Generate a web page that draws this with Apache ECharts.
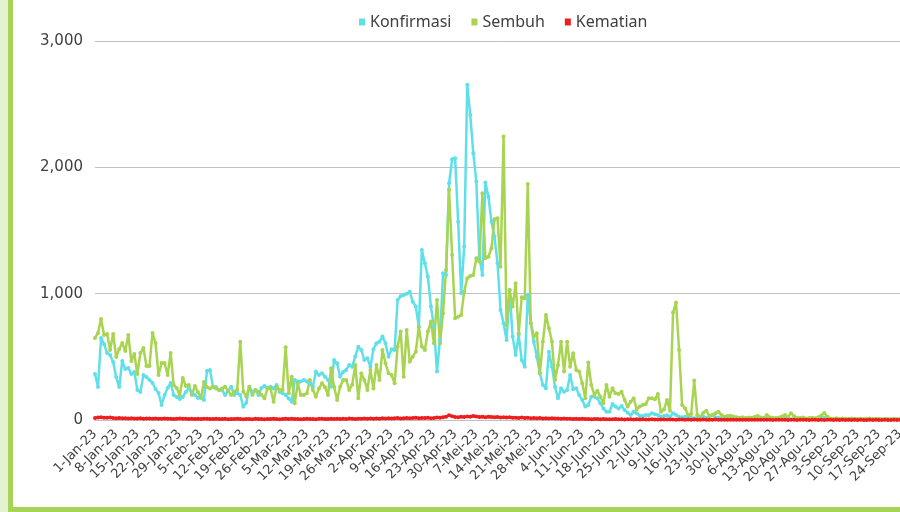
<!DOCTYPE html>
<html>
<head>
<meta charset="utf-8">
<script src="https://cdn.jsdelivr.net/npm/echarts@6/dist/echarts.min.js"></script>
<style>
  html, body { margin: 0; padding: 0; background: #fff; }
  #chart { width: 900px; height: 512px; }
</style>
</head>
<body>
<div id="chart"></div>
<script>
// bulan (Indonesia) dan jumlah hari, 1-Jan-23 s/d 24-Sep-23
var bulan = ['Jan', 'Feb', 'Mar', 'Apr', 'Mei', 'Jun', 'Jul', 'Agu', 'Sep'];
var hariPerBulan = [31, 28, 31, 30, 31, 30, 31, 31, 24];

var konfirmasi = [
  364, 261, 650, 600, 530, 515, 460, 340, 261, 467,
  404, 412, 364, 380, 238, 222, 356, 340, 317, 293,
  245, 214, 119, 198, 253, 293, 198, 182, 166, 182,
  222, 253, 214, 198, 174, 182, 158, 388, 396, 264,
  261, 238, 238, 198, 230, 264, 198, 214, 198, 105,
  137, 264, 222, 238, 198, 253, 269, 253, 264, 250,
  277, 222, 211, 198, 170, 145, 317, 304, 304, 317,
  304, 290, 264, 383, 356, 370, 343, 317, 264, 475,
  449, 343, 380, 396, 436, 422, 502, 580, 554, 475,
  488, 422, 560, 607, 620, 660, 607, 500, 560, 554,
  950, 980, 990, 1000, 1016, 937, 898, 739, 1346, 1241,
  1135, 898, 739, 383, 634, 1161, 1148, 1874, 2064, 2072,
  1570, 1003, 1373, 2653, 2415, 2112, 1887, 1293, 1148, 1880,
  1769, 1570, 1452, 1241, 871, 766, 634, 1029, 660, 515,
  673, 475, 422, 990, 766, 620, 501, 370, 277, 251,
  541, 422, 264, 172, 251, 224, 238, 356, 243, 251,
  198, 158, 106, 119, 185, 185, 172, 132, 92, 66,
  66, 127, 106, 92, 111, 79, 58, 40, 66, 53,
  32, 32, 40, 37, 53, 45, 40, 26, 32, 37,
  26, 53, 40, 26, 21, 26, 21, 18, 13, 15,
  20, 26, 18, 15, 40, 22, 18, 12, 16, 14,
  12, 10, 14, 9, 11, 8, 12, 10, 9, 8,
  10, 7, 9, 8, 11, 7, 6, 8, 9, 7,
  6, 8, 7, 5, 9, 6, 7, 5, 6, 8,
  14, 18, 12, 7, 6, 5, 7, 6, 5, 4,
  5, 6, 4, 5, 3, 4, 6, 5, 4, 3,
  4, 5, 3, 4, 3, 5, 4
];

var sembuh = [
  650, 689, 800, 673, 681, 554, 681, 499, 562, 610,
  546, 673, 467, 523, 364, 530, 570, 428, 428, 689,
  610, 356, 451, 451, 356, 530, 277, 253, 198, 333,
  269, 277, 198, 269, 222, 174, 301, 261, 250, 264,
  250, 238, 250, 264, 230, 198, 224, 240, 620, 224,
  185, 264, 198, 238, 224, 200, 172, 250, 250, 145,
  264, 238, 238, 575, 211, 343, 132, 290, 198, 198,
  211, 317, 238, 185, 250, 290, 260, 198, 409, 264,
  158, 264, 317, 317, 238, 280, 436, 172, 370, 317,
  238, 396, 250, 436, 317, 554, 449, 370, 356, 290,
  581, 700, 343, 713, 462, 501, 541, 739, 581, 554,
  700, 779, 607, 950, 607, 845, 1188, 1822, 1307, 805,
  818, 832, 1016, 1122, 1140, 1148, 1280, 1254, 1795, 1280,
  1293, 1360, 1590, 1597, 1214, 2244, 752, 1029, 898, 1082,
  686, 971, 963, 1869, 766, 660, 686, 370, 620, 832,
  726, 620, 317, 436, 620, 383, 620, 422, 528, 396,
  383, 290, 172, 455, 277, 198, 232, 185, 132, 277,
  185, 251, 211, 206, 224, 158, 106, 145, 172, 84,
  106, 119, 127, 172, 172, 164, 206, 66, 84, 158,
  74, 851, 930, 554, 119, 92, 40, 48, 312, 40,
  26, 58, 74, 32, 40, 53, 66, 40, 26, 32,
  34, 28, 21, 18, 22, 15, 20, 18, 25, 32,
  20, 15, 40, 22, 18, 15, 20, 28, 40, 25,
  53, 30, 18, 15, 20, 12, 15, 18, 14, 22,
  35, 55, 25, 12, 10, 14, 9, 12, 10, 8,
  11, 9, 8, 10, 7, 9, 12, 8, 7, 9,
  6, 8, 7, 6, 9, 7, 5
];

var kematian = [
  15, 20, 22, 18, 17, 20, 16, 14, 15, 13,
  14, 12, 13, 11, 12, 14, 10, 11, 12, 10,
  11, 9, 10, 12, 9, 10, 8, 9, 11, 10,
  9, 8, 10, 7, 9, 8, 10, 9, 7, 8,
  9, 7, 8, 10, 6, 8, 7, 9, 8, 6,
  7, 8, 6, 9, 7, 8, 6, 7, 8, 9,
  7, 6, 8, 9, 7, 10, 8, 7, 6, 8,
  9, 7, 8, 6, 9, 10, 8, 7, 9, 8,
  10, 8, 9, 7, 11, 9, 8, 10, 9, 11,
  10, 12, 9, 11, 10, 13, 12, 14, 11, 13,
  15, 12, 14, 16, 13, 15, 18, 14, 16, 15,
  17, 14, 16, 19, 18, 22, 25, 38, 30, 24,
  22, 26, 24, 28, 25, 32, 27, 24, 26, 22,
  25, 23, 21, 24, 20, 22, 19, 21, 17, 18,
  16, 19, 15, 17, 14, 16, 13, 15, 12, 14,
  12, 13, 11, 12, 10, 11, 9, 10, 8, 9,
  8, 9, 7, 8, 6, 7, 8, 6, 7, 5,
  6, 5, 7, 6, 5, 4, 6, 5, 4, 5,
  4, 5, 3, 4, 5, 3, 4, 3, 4, 3,
  3, 4, 2, 3, 4, 2, 3, 2, 3, 2,
  2, 3, 2, 1, 2, 3, 2, 1, 2, 1,
  2, 1, 2, 1, 1, 2, 1, 2, 1, 1,
  1, 2, 1, 1, 0, 1, 2, 1, 1, 0,
  1, 1, 0, 1, 2, 1, 0, 1, 1, 0,
  1, 0, 1, 1, 0, 1, 0, 1, 0, 1,
  0, 1, 0, 1, 0, 0, 1, 0, 1, 0,
  0, 1, 0, 0, 1, 0, 1
];

var tanggal = [];
bulan.forEach(function (b, m) {
  for (var d = 1; d <= hariPerBulan[m]; d++) {
    tanggal.push(d + '-' + b + '-23');
  }
});

var myChart = echarts.init(document.getElementById('chart'));

function garis(nama, warna, data) {
  return {
    name: nama,
    type: 'line',
    data: data,
    symbol: 'circle',
    symbolSize: 4,
    showAllSymbol: true,
    itemStyle: { color: warna },
    lineStyle: { color: warna, width: 2.5 },
    emphasis: { disabled: true }
  };
}

var option = {
  animation: false,
  textStyle: { fontFamily: 'DejaVu Sans' },
  graphic: [
    { type: 'rect', shape: { x: 0, y: 0, width: 8, height: 512 }, style: { fill: '#E5F2D2' } },
    { type: 'rect', shape: { x: 8, y: 0, width: 5, height: 512 }, style: { fill: '#A8D455' } },
    { type: 'rect', shape: { x: 8, y: 507, width: 892, height: 5 }, style: { fill: '#A8D455' } }
  ],
  legend: {
    top: 9,
    left: 354,
    icon: 'rect',
    itemWidth: 6,
    itemHeight: 7,
    itemGap: 20,
    textStyle: { fontSize: 16, color: '#404040', fontFamily: 'Noto Sans' },
    data: ['Konfirmasi', 'Sembuh', 'Kematian']
  },
  grid: {
    left: 95,
    right: 0,
    top: 41,
    bottom: 92,
    outerBoundsMode: 'none'
  },
  xAxis: {
    type: 'category',
    boundaryGap: false,
    data: tanggal,
    axisTick: { show: false },
    axisLine: { lineStyle: { color: '#bfbfbf' } },
    axisLabel: {
      interval: 6,
      rotate: 45,
      fontSize: 13,
      color: '#404040',
      margin: 12
    }
  },
  yAxis: {
    type: 'value',
    min: 0,
    max: 3000,
    interval: 1000,
    axisLine: { show: false },
    axisTick: { show: false },
    splitLine: { lineStyle: { color: '#c0c0c0', width: 1 } },
    axisLabel: {
      fontSize: 15,
      color: '#404040',
      margin: 12,
      formatter: function (v) { return v.toLocaleString('en-US'); }
    }
  },
  series: [
    garis('Konfirmasi', '#5FE0E8', konfirmasi),
    garis('Sembuh', '#A8D452', sembuh),
    garis('Kematian', '#EE1E1E', kematian)
  ]
};

myChart.setOption(option);
window.addEventListener('resize', function () {
  myChart.resize();
});
</script>
</body>
</html>
